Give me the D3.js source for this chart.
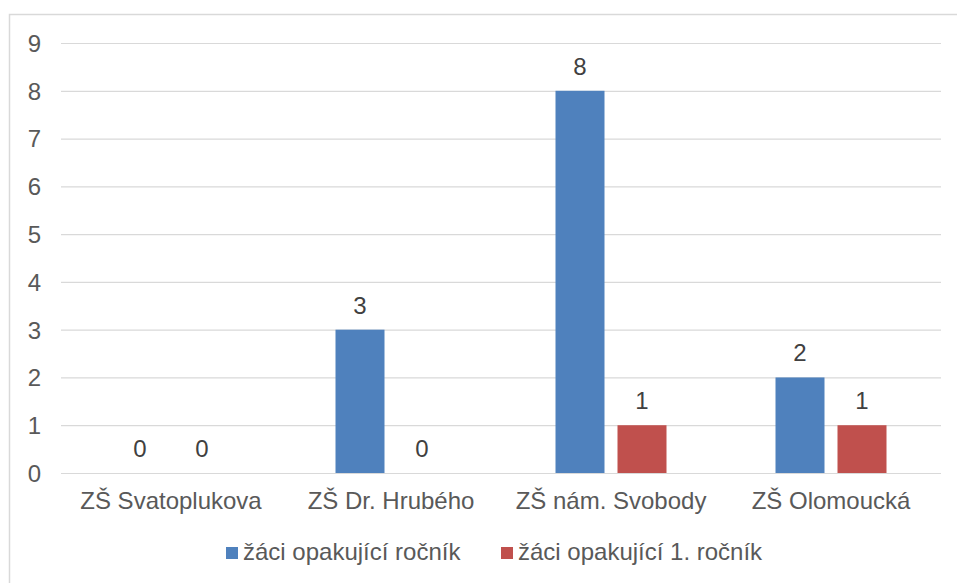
<!DOCTYPE html>
<html><head><meta charset="utf-8">
<script src="https://cdn.jsdelivr.net/npm/d3@7"></script>
<style>
html,body{margin:0;padding:0;background:#fff;}
svg{display:block;font-family:"Liberation Sans",Arial,sans-serif;}
</style></head>
<body><svg id="c" width="957" height="583"></svg>
<script>
const categories = ["ZŠ Svatoplukova", "ZŠ Dr. Hrubého", "ZŠ nám. Svobody", "ZŠ Olomoucká"];
const seriesNames = ["žáci opakující ročník", "žáci opakující 1. ročník"];
const series1 = [0, 3, 8, 2];
const series2 = [0, 0, 1, 1];
const yTicks = [0, 1, 2, 3, 4, 5, 6, 7, 8, 9];
const colors = ["#4F81BD", "#C0504D"];

(function () {
const svg = d3.select("#c");
const W = 957, H = 583;
const pLeft = 61, pRight = 941, pTop = 43, pBottom = 473;

// chart border
svg.append("rect").attr("x", 9.5).attr("y", 14.5).attr("width", W).attr("height", H)
  .attr("fill", "none").attr("stroke", "#d9d9d9").attr("stroke-width", 1.5);

const y = d3.scaleLinear().domain([0, 9]).range([pBottom, pTop]);
const x0 = d3.scaleBand().domain(categories).range([pLeft, pRight])
  .paddingInner(109/220).paddingOuter(109/440);
const x1 = d3.scaleBand().domain(seriesNames).range([0, x0.bandwidth()])
  .paddingInner(13/62).paddingOuter(0);

// gridlines
const grid = svg.append("g").attr("transform", `translate(${pLeft},0)`)
  .call(d3.axisLeft(y).tickValues(yTicks).tickSize(-(pRight - pLeft)).tickFormat(""));
grid.select(".domain").remove();
grid.selectAll("line").attr("stroke", "#d9d9d9").attr("stroke-width", 1.2);

// y labels
const ya = svg.append("g").attr("transform", `translate(41,0)`)
  .call(d3.axisLeft(y).tickValues(yTicks).tickSize(0).tickPadding(0).tickFormat(d3.format("d")));
ya.select(".domain").remove();
ya.selectAll("text").attr("font-size", 24).attr("fill", "#595959")
  .attr("font-family", "'Liberation Sans', Arial, sans-serif").attr("dy", "0.35em");

// bars
const data = categories.map((c, i) => ({cat: c, vals: [series1[i], series2[i]]}));
const groups = svg.append("g").selectAll("g").data(data).join("g")
  .attr("transform", d => `translate(${x0(d.cat)},0)`);
groups.selectAll("rect").data(d => d.vals.map((v, k) => ({v, k})))
  .join("rect")
  .attr("x", d => x1(seriesNames[d.k]))
  .attr("width", x1.bandwidth())
  .attr("y", d => y(d.v))
  .attr("height", d => y(0) - y(d.v))
  .attr("fill", d => colors[d.k]);
groups.selectAll("text").data(d => d.vals.map((v, k) => ({v, k})))
  .join("text")
  .attr("x", d => x1(seriesNames[d.k]) + x1.bandwidth() / 2)
  .attr("y", d => y(d.v) - 16)
  .attr("text-anchor", "middle")
  .attr("font-size", 24).attr("fill", "#404040")
  .text(d => d.v);

// x labels
const xa = svg.append("g").attr("transform", `translate(0,${pBottom})`)
  .call(d3.axisBottom(x0).tickSize(0).tickPadding(0));
xa.select(".domain").remove();
xa.selectAll("text").attr("font-size", 24).attr("fill", "#595959")
  .attr("font-family", "'Liberation Sans', Arial, sans-serif")
  .attr("dy", null).attr("y", 36);

// legend
const legX = [226, 501];
const leg = svg.append("g");
seriesNames.forEach((n, i) => {
  leg.append("rect").attr("x", legX[i]).attr("y", 547).attr("width", 12).attr("height", 12)
    .attr("fill", colors[i]);
  leg.append("text").attr("x", legX[i] + 17).attr("y", 560)
    .attr("font-size", 24).attr("fill", "#595959").text(n);
});
})();
</script></body></html>
